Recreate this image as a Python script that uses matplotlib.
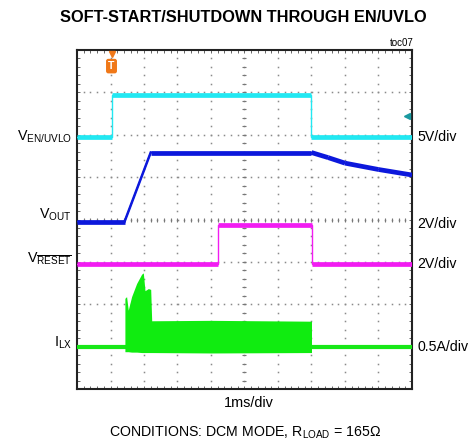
import matplotlib.pyplot as plt
import numpy as np

plt.rcParams['font.family'] = ['Liberation Sans', 'DejaVu Sans']
plt.rcParams['mathtext.fontset'] = 'custom'
plt.rcParams['mathtext.rm'] = 'Liberation Sans'
plt.rcParams['mathtext.it'] = 'Liberation Sans:italic'
plt.rcParams['mathtext.bf'] = 'Liberation Sans:bold'

# traces, in scope divisions (x: 0..10, y: 0..8)
en_t = [0, 1.03, 1.03, 7.0, 7.0, 10]
en_v = [5.95, 5.95, 6.93, 6.93, 5.95, 5.95]

vout_t = [0, 1.42, 2.2, 7.0, 7.5, 8.0, 9.0, 10]
vout_v = [3.95, 3.95, 5.58, 5.58, 5.46, 5.33, 5.18, 5.05]

reset_t = [0, 4.22, 4.22, 7.02, 7.02, 10]
reset_v = [2.96, 2.96, 3.88, 3.88, 2.96, 2.96]

lx_base = 1.0
lx_t = [1.43, 1.48, 1.53, 1.63, 1.78, 1.93, 1.98, 2.03, 2.13, 2.20, 2.23, 4.0, 7.0]
lx_hi = [2.14, 2.18, 1.86, 2.18, 2.49, 2.71, 2.74, 2.32, 2.37, 2.35, 1.61, 1.62, 1.60]
lx_lo = [0.88, 0.88, 0.88, 0.87, 0.87, 0.86, 0.86, 0.86, 0.86, 0.86, 0.86, 0.85, 0.86]

left_labels = [r'V$_{\mathrm{EN/UVLO}}$', r'V$_{\mathrm{OUT}}$',
               r'V$_{\overline{\mathrm{RESET}}}$', r'I$_{\mathrm{LX}}$']
left_y = [5.95, 4.1, 3.08, 1.1]
right_labels = ['5V/div', '2V/div', '2V/div', '0.5A/div']
right_y = [5.95, 3.9, 2.96, 1.0]


def draw_trace(ax, t, v, color):
    ax.plot(t, v, color=color, lw=1.0, zorder=3)
    for i in range(len(t) - 1):
        dt = t[i + 1] - t[i]
        if dt > 0 and abs((v[i + 1] - v[i]) / dt) < 1:
            ax.plot(t[i:i + 2], v[i:i + 2], color=color, lw=3.4,
                    solid_capstyle='butt', zorder=3)
        elif dt > 0:
            ax.plot(t[i:i + 2], v[i:i + 2], color=color, lw=1.8, zorder=3)


fig = plt.figure(figsize=(4.71, 4.46), dpi=100)
ax = fig.add_axes([77 / 471, 1 - 389 / 446, 335 / 471, 339 / 446])
ax.set_xlim(0, 10)
ax.set_ylim(0, 8)

# graticule: dotted division lines, ticked centre cross
gx, gy = np.meshgrid(np.arange(1, 10), np.arange(0.2, 8, 0.2))
ax.plot(gx.ravel(), gy.ravel(), ls='none', marker='s', ms=1.1, mew=0,
        color='#8a8a8a', zorder=1)
gx, gy = np.meshgrid(np.arange(0.2, 10, 0.2), np.arange(1, 8))
ax.plot(gx.ravel(), gy.ravel(), ls='none', marker='s', ms=1.1, mew=0,
        color='#8a8a8a', zorder=1)
ax.plot(np.full(41, 5.0), np.arange(0, 8.01, 0.2), ls='none', marker='_',
        ms=3.5, mew=0.8, color='#777777', zorder=1)
ax.plot(np.arange(0, 10.01, 0.2), np.full(51, 4.0), ls='none', marker='|',
        ms=3.5, mew=0.8, color='#777777', zorder=1)
ax.set_xticks([])
ax.set_yticks([])
ax.set_xticks(np.arange(0, 10.01, 0.2), minor=True)
ax.set_yticks(np.arange(0, 8.01, 0.2), minor=True)
ax.tick_params(which='minor', direction='in', top=True, right=True,
               length=2.5, width=0.7, color='#666666',
               labelbottom=False, labelleft=False)
for s in ax.spines.values():
    s.set_linewidth(1.5)
    s.set_color('#222222')

draw_trace(ax, en_t, en_v, '#22e8f2')
draw_trace(ax, vout_t, vout_v, '#0c18dc')
draw_trace(ax, reset_t, reset_v, '#f21cf2')

ax.plot([0, 10], [lx_base, lx_base], color='#18e818', lw=3.0,
        solid_capstyle='butt', zorder=3)
ax.fill_between(lx_t, lx_lo, lx_hi, color='#10ec10', lw=0, zorder=3)

# trigger and level markers
ax.plot([1.03], [7.9], marker='v', color='#f07818', ms=5, zorder=4)
ax.text(1.03, 7.62, 'T', color='white', fontsize=7.5, fontweight='bold',
        ha='center', va='center', zorder=4,
        bbox=dict(boxstyle='round,pad=0.22', fc='#f07818', ec='none'))
ax.plot([9.84], [6.44], marker='<', color='#1a9aa0', ms=5, zorder=4)
ax.plot([9.84, 9.95], [6.44, 6.44], color='#1a9aa0', lw=1.2, zorder=4)

for lab, y in zip(left_labels, left_y):
    ax.text(-0.15, y, lab, ha='right', va='center', fontsize=10.3)
for lab, y in zip(right_labels, right_y):
    ax.text(10.15, y, lab, ha='left', va='center', fontsize=10.2)

fig.text(243 / 471, 1 - 17 / 446, 'SOFT-START/SHUTDOWN THROUGH EN/UVLO',
         ha='center', va='center', fontsize=11.8, fontweight='bold')
fig.text(414 / 471, 1 - 43 / 446, 'toc07', ha='right', va='center', fontsize=7)
fig.text(249 / 471, 1 - 403 / 446, '1ms/div', ha='center', va='center', fontsize=10.4)
fig.text(245 / 471, 1 - 433 / 446,
         r'CONDITIONS: DCM MODE, R$_{\mathrm{LOAD}}$ = 165Ω',
         ha='center', va='center', fontsize=10.2)

fig.savefig('out.png', dpi=100)
